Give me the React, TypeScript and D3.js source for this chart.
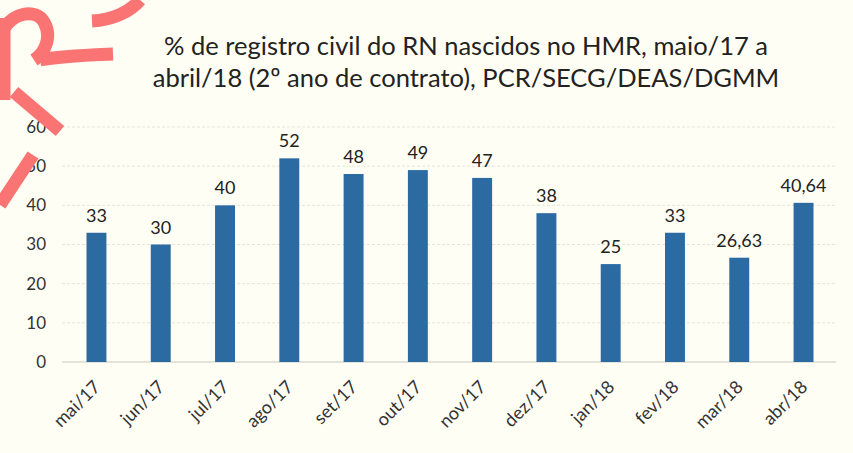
import React, { useEffect, useRef } from "react";
import * as d3 from "d3";

const months = ["mai/17", "jun/17", "jul/17", "ago/17", "set/17", "out/17", "nov/17", "dez/17", "jan/18", "fev/18", "mar/18", "abr/18"];
const values = [33, 30, 40, 52, 48, 49, 47, 38, 25, 33, 26.63, 40.64];
const labels = ["33", "30", "40", "52", "48", "49", "47", "38", "25", "33", "26,63", "40,64"];
const yTicks = [0, 10, 20, 30, 40, 50, 60];
const titleLines = [
  "% de registro civil do RN nascidos no HMR, maio/17 a",
  "abril/18 (2º ano de contrato), PCR/SECG/DEAS/DGMM",
];

function App() {
  const svgRef = useRef(null);

  const w = 853;
  const h = 453;

  useEffect(() => {
    document.body.style.margin = "0";
    const svg = d3.select(svgRef.current);
    svg.selectAll("*").remove();

    svg.append("rect").attr("width", w).attr("height", h).attr("fill", "#fffef4");

    const x = d3.scaleBand().domain(months).range([64, 836]).paddingInner(0.69).paddingOuter(0.35);
    const y = d3.scaleLinear().domain([0, 60]).range([362, 127]);

    // gridlines
    svg
      .append("g")
      .selectAll("line")
      .data(yTicks)
      .join("line")
      .attr("x1", 62)
      .attr("x2", 836)
      .attr("y1", (d) => y(d))
      .attr("y2", (d) => y(d))
      .attr("stroke", d => (d === 0 ? "#c8c8c0" : "#e4e4dc"))
      .attr("stroke-width", 1)
      .attr("stroke-dasharray", d => (d === 0 ? null : "3,2"));

    const yAxis = d3.axisLeft(y).tickValues(yTicks).tickSize(0).tickPadding(0);
    const ga = svg.append("g").attr("transform", "translate(46,0)").call(yAxis);
    ga.select(".domain").remove();
    ga.selectAll("text")
      .attr("font-family", "Lato, 'Open Sans', sans-serif")
      .attr("font-size", 17)
      .attr("fill", "#333");

    svg
      .append("g")
      .selectAll("rect")
      .data(values)
      .join("rect")
      .attr("x", (d, i) => x(months[i]))
      .attr("y", (d) => y(d))
      .attr("width", x.bandwidth())
      .attr("height", (d) => y(0) - y(d))
      .attr("fill", "#2c6aa2");

    svg
      .append("g")
      .selectAll("text")
      .data(values)
      .join("text")
      .attr("x", (d, i) => x(months[i]) + x.bandwidth() / 2)
      .attr("y", (d) => y(d) - 11)
      .attr("text-anchor", "middle")
      .attr("font-family", "Lato, 'Open Sans', sans-serif")
      .attr("font-size", 18)
      .attr("fill", "#222")
      .text((d, i) => labels[i]);

    const xAxis = d3.axisBottom(x).tickSize(0).tickPadding(0);
    const gx = svg.append("g").attr("transform", "translate(0,362)").call(xAxis);
    gx.select(".domain").remove();
    gx.selectAll("text")
      .attr("font-family", "Lato, 'Open Sans', sans-serif")
      .attr("font-size", 18)
      .attr("fill", "#333")
      .attr("text-anchor", "end")
      .attr("dy", null)
      .attr("y", 0)
      .attr("transform", "translate(5,26) rotate(-45)");

    svg
      .append("g")
      .selectAll("text")
      .data(titleLines)
      .join("text")
      .attr("x", 466)
      .attr("y", (d, i) => 55 + i * 32)
      .attr("text-anchor", "middle")
      .attr("font-family", "Lato, 'Open Sans', sans-serif")
      .attr("font-size", 25.5)
      .attr("fill", "#222")
      .text((d) => d);

    // red stamp in the corner of the scan
    const stamp = svg.append("g").attr("fill", "none").attr("stroke", "#fa7474").attr("stroke-width", 13).attr("stroke-linecap", "butt");
    stamp.append("path").attr("d", "M4,18 L4,100");
    stamp.append("path").attr("d", "M2,32 C12,12 36,8 44,22 C52,36 46,52 34,60");
    stamp.append("path").attr("d", "M40,60 C60,56 90,55 113,54");
    stamp.append("path").attr("d", "M14,92 L60,131");
    stamp.append("path").attr("d", "M92,21 C112,20 130,12 140,0");
    stamp.append("path").attr("d", "M33,155 L0,205");
  }, []);

  return (
    <div>
      <svg ref={svgRef} width={w} height={h} style={{ display: "block" }}></svg>
    </div>
  );
}
export default App;
